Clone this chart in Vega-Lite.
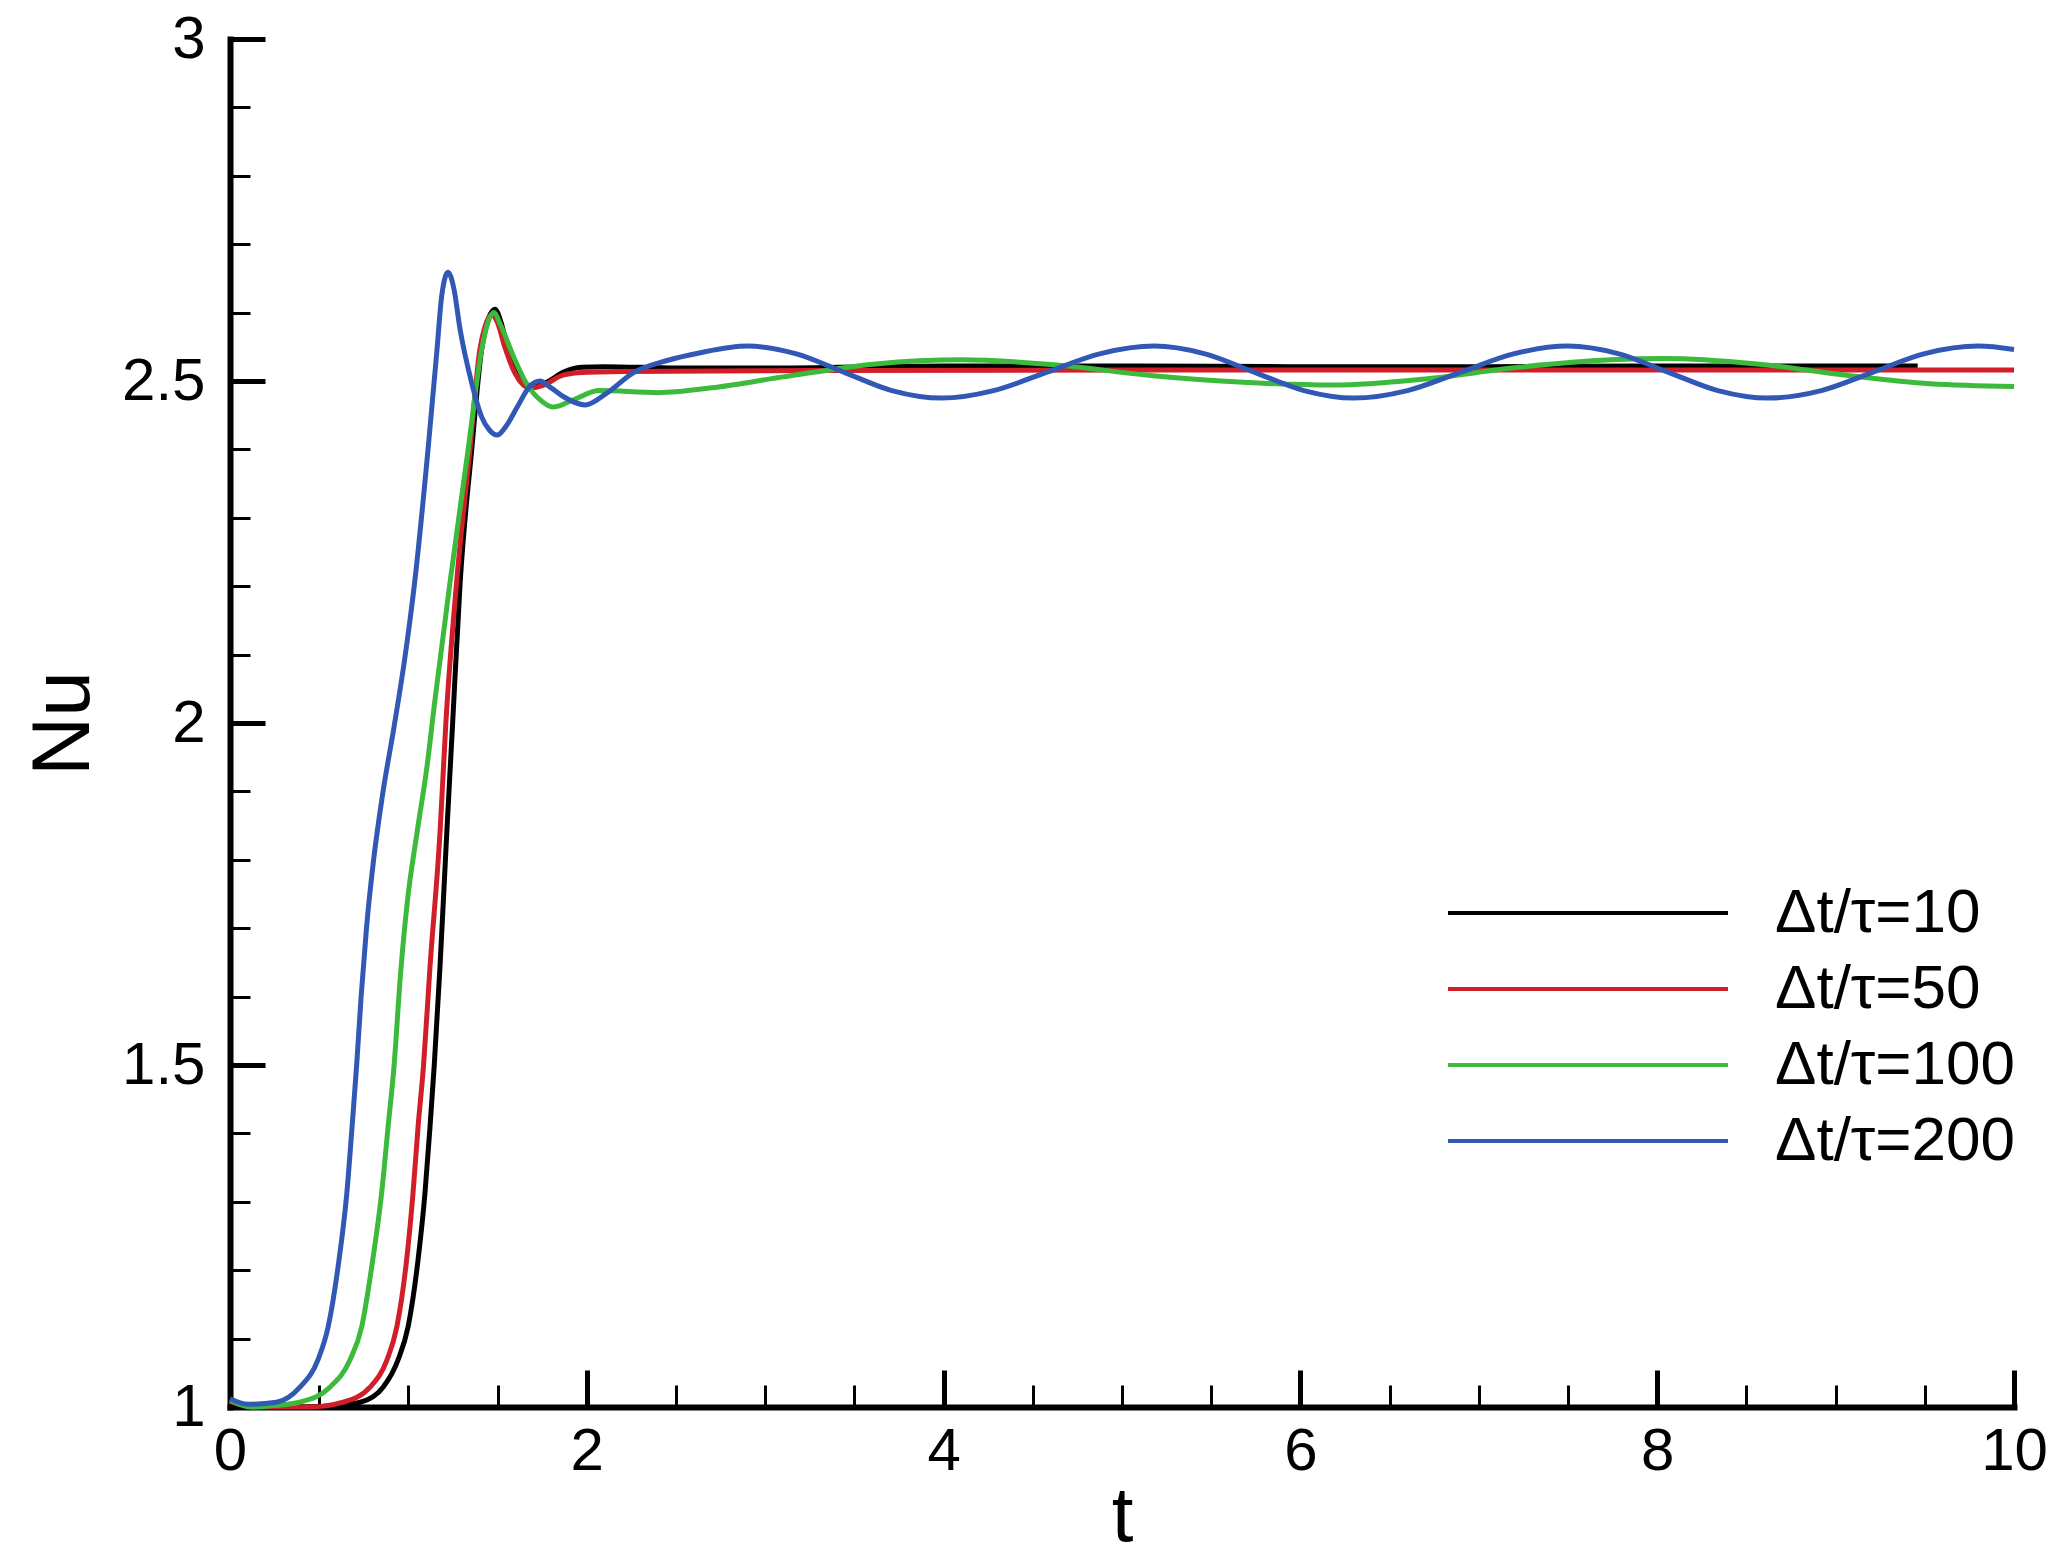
{
  "$schema": "https://vega.github.io/schema/vega-lite/v6.json",
  "width": 1784,
  "height": 1368,
  "autosize": {"type": "none"},
  "padding": {"left": 230, "top": 39, "right": 50, "bottom": 156},
  "background": "white",
  "config": {"view": {"stroke": null}, "font": "Liberation Sans"},
  "data": {
    "values": [
      {"series": "Δt/τ=10", "t": 0, "Nu": 1.006},
      {"series": "Δt/τ=10", "t": 0.15, "Nu": 1.0},
      {"series": "Δt/τ=10", "t": 0.4, "Nu": 1.0},
      {"series": "Δt/τ=10", "t": 0.58, "Nu": 1.002},
      {"series": "Δt/τ=10", "t": 0.73, "Nu": 1.007},
      {"series": "Δt/τ=10", "t": 0.858, "Nu": 1.029},
      {"series": "Δt/τ=10", "t": 0.942, "Nu": 1.069},
      {"series": "Δt/τ=10", "t": 0.998, "Nu": 1.117},
      {"series": "Δt/τ=10", "t": 1.054, "Nu": 1.215},
      {"series": "Δt/τ=10", "t": 1.093, "Nu": 1.313},
      {"series": "Δt/τ=10", "t": 1.121, "Nu": 1.409},
      {"series": "Δt/τ=10", "t": 1.145, "Nu": 1.5},
      {"series": "Δt/τ=10", "t": 1.177, "Nu": 1.643},
      {"series": "Δt/τ=10", "t": 1.215, "Nu": 1.839},
      {"series": "Δt/τ=10", "t": 1.25, "Nu": 2.01},
      {"series": "Δt/τ=10", "t": 1.29, "Nu": 2.205},
      {"series": "Δt/τ=10", "t": 1.355, "Nu": 2.4},
      {"series": "Δt/τ=10", "t": 1.41, "Nu": 2.545},
      {"series": "Δt/τ=10", "t": 1.45, "Nu": 2.592},
      {"series": "Δt/τ=10", "t": 1.485, "Nu": 2.605},
      {"series": "Δt/τ=10", "t": 1.52, "Nu": 2.585},
      {"series": "Δt/τ=10", "t": 1.55, "Nu": 2.555},
      {"series": "Δt/τ=10", "t": 1.61, "Nu": 2.512},
      {"series": "Δt/τ=10", "t": 1.66, "Nu": 2.494},
      {"series": "Δt/τ=10", "t": 1.72, "Nu": 2.493},
      {"series": "Δt/τ=10", "t": 1.78, "Nu": 2.499},
      {"series": "Δt/τ=10", "t": 1.87, "Nu": 2.513},
      {"series": "Δt/τ=10", "t": 1.97, "Nu": 2.52},
      {"series": "Δt/τ=10", "t": 2.1, "Nu": 2.521},
      {"series": "Δt/τ=10", "t": 2.5, "Nu": 2.519},
      {"series": "Δt/τ=10", "t": 3, "Nu": 2.519},
      {"series": "Δt/τ=10", "t": 4, "Nu": 2.522},
      {"series": "Δt/τ=10", "t": 5, "Nu": 2.522},
      {"series": "Δt/τ=10", "t": 6, "Nu": 2.521},
      {"series": "Δt/τ=10", "t": 7, "Nu": 2.521},
      {"series": "Δt/τ=10", "t": 8, "Nu": 2.522},
      {"series": "Δt/τ=10", "t": 9, "Nu": 2.522},
      {"series": "Δt/τ=10", "t": 9.46, "Nu": 2.522},

      {"series": "Δt/τ=50", "t": 0, "Nu": 1.008},
      {"series": "Δt/τ=50", "t": 0.15, "Nu": 1.0},
      {"series": "Δt/τ=50", "t": 0.45, "Nu": 1.0},
      {"series": "Δt/τ=50", "t": 0.634, "Nu": 1.007},
      {"series": "Δt/τ=50", "t": 0.785, "Nu": 1.029},
      {"series": "Δt/τ=50", "t": 0.88, "Nu": 1.069},
      {"series": "Δt/τ=50", "t": 0.935, "Nu": 1.117},
      {"series": "Δt/τ=50", "t": 0.99, "Nu": 1.215},
      {"series": "Δt/τ=50", "t": 1.026, "Nu": 1.313},
      {"series": "Δt/τ=50", "t": 1.054, "Nu": 1.409},
      {"series": "Δt/τ=50", "t": 1.085, "Nu": 1.5},
      {"series": "Δt/τ=50", "t": 1.121, "Nu": 1.643},
      {"series": "Δt/τ=50", "t": 1.177, "Nu": 1.839},
      {"series": "Δt/τ=50", "t": 1.21, "Nu": 2.0},
      {"series": "Δt/τ=50", "t": 1.27, "Nu": 2.205},
      {"series": "Δt/τ=50", "t": 1.345, "Nu": 2.4},
      {"series": "Δt/τ=50", "t": 1.4, "Nu": 2.545},
      {"series": "Δt/τ=50", "t": 1.43, "Nu": 2.58},
      {"series": "Δt/τ=50", "t": 1.467, "Nu": 2.597},
      {"series": "Δt/τ=50", "t": 1.5, "Nu": 2.585},
      {"series": "Δt/τ=50", "t": 1.54, "Nu": 2.55},
      {"series": "Δt/τ=50", "t": 1.6, "Nu": 2.51},
      {"series": "Δt/τ=50", "t": 1.68, "Nu": 2.49},
      {"series": "Δt/τ=50", "t": 1.76, "Nu": 2.494},
      {"series": "Δt/τ=50", "t": 1.85, "Nu": 2.507},
      {"series": "Δt/τ=50", "t": 1.95, "Nu": 2.512},
      {"series": "Δt/τ=50", "t": 2.2, "Nu": 2.514},
      {"series": "Δt/τ=50", "t": 3, "Nu": 2.515},
      {"series": "Δt/τ=50", "t": 5, "Nu": 2.516},
      {"series": "Δt/τ=50", "t": 7, "Nu": 2.516},
      {"series": "Δt/τ=50", "t": 10, "Nu": 2.516},

      {"series": "Δt/τ=100", "t": 0, "Nu": 1.01},
      {"series": "Δt/τ=100", "t": 0.12, "Nu": 1.0},
      {"series": "Δt/τ=100", "t": 0.25, "Nu": 1.002},
      {"series": "Δt/τ=100", "t": 0.39, "Nu": 1.007},
      {"series": "Δt/τ=100", "t": 0.56, "Nu": 1.029},
      {"series": "Δt/τ=100", "t": 0.673, "Nu": 1.069},
      {"series": "Δt/τ=100", "t": 0.738, "Nu": 1.117},
      {"series": "Δt/τ=100", "t": 0.8, "Nu": 1.215},
      {"series": "Δt/τ=100", "t": 0.85, "Nu": 1.313},
      {"series": "Δt/τ=100", "t": 0.886, "Nu": 1.409},
      {"series": "Δt/τ=100", "t": 0.92, "Nu": 1.5},
      {"series": "Δt/τ=100", "t": 0.955, "Nu": 1.63},
      {"series": "Δt/τ=100", "t": 0.995, "Nu": 1.741},
      {"series": "Δt/τ=100", "t": 1.048, "Nu": 1.839},
      {"series": "Δt/τ=100", "t": 1.104, "Nu": 1.936},
      {"series": "Δt/τ=100", "t": 1.149, "Nu": 2.034},
      {"series": "Δt/τ=100", "t": 1.233, "Nu": 2.205},
      {"series": "Δt/τ=100", "t": 1.335, "Nu": 2.4},
      {"series": "Δt/τ=100", "t": 1.41, "Nu": 2.545},
      {"series": "Δt/τ=100", "t": 1.445, "Nu": 2.585},
      {"series": "Δt/τ=100", "t": 1.478, "Nu": 2.6},
      {"series": "Δt/τ=100", "t": 1.52, "Nu": 2.58},
      {"series": "Δt/τ=100", "t": 1.59, "Nu": 2.535},
      {"series": "Δt/τ=100", "t": 1.66, "Nu": 2.497},
      {"series": "Δt/τ=100", "t": 1.74, "Nu": 2.472},
      {"series": "Δt/τ=100", "t": 1.81, "Nu": 2.462},
      {"series": "Δt/τ=100", "t": 1.92, "Nu": 2.472},
      {"series": "Δt/τ=100", "t": 2.07, "Nu": 2.486},
      {"series": "Δt/τ=100", "t": 2.4, "Nu": 2.483},
      {"series": "Δt/τ=100", "t": 2.7, "Nu": 2.49},
      {"series": "Δt/τ=100", "t": 3.1, "Nu": 2.506},
      {"series": "Δt/τ=100", "t": 3.62, "Nu": 2.525},
      {"series": "Δt/τ=100", "t": 4.1, "Nu": 2.531},
      {"series": "Δt/τ=100", "t": 4.65, "Nu": 2.523},
      {"series": "Δt/τ=100", "t": 5.16, "Nu": 2.508},
      {"series": "Δt/τ=100", "t": 5.68, "Nu": 2.498},
      {"series": "Δt/τ=100", "t": 6.19, "Nu": 2.494},
      {"series": "Δt/τ=100", "t": 6.7, "Nu": 2.503},
      {"series": "Δt/τ=100", "t": 7.22, "Nu": 2.52},
      {"series": "Δt/τ=100", "t": 7.74, "Nu": 2.531},
      {"series": "Δt/τ=100", "t": 8.04, "Nu": 2.533},
      {"series": "Δt/τ=100", "t": 8.56, "Nu": 2.525},
      {"series": "Δt/τ=100", "t": 9.07, "Nu": 2.508},
      {"series": "Δt/τ=100", "t": 9.53, "Nu": 2.496},
      {"series": "Δt/τ=100", "t": 10, "Nu": 2.492},

      {"series": "Δt/τ=200", "t": 0, "Nu": 1.012},
      {"series": "Δt/τ=200", "t": 0.1, "Nu": 1.004},
      {"series": "Δt/τ=200", "t": 0.26, "Nu": 1.007},
      {"series": "Δt/τ=200", "t": 0.392, "Nu": 1.029},
      {"series": "Δt/τ=200", "t": 0.493, "Nu": 1.069},
      {"series": "Δt/τ=200", "t": 0.55, "Nu": 1.117},
      {"series": "Δt/τ=200", "t": 0.611, "Nu": 1.215},
      {"series": "Δt/τ=200", "t": 0.655, "Nu": 1.313},
      {"series": "Δt/τ=200", "t": 0.684, "Nu": 1.409},
      {"series": "Δt/τ=200", "t": 0.71, "Nu": 1.5},
      {"series": "Δt/τ=200", "t": 0.735, "Nu": 1.6},
      {"series": "Δt/τ=200", "t": 0.765, "Nu": 1.7},
      {"series": "Δt/τ=200", "t": 0.805, "Nu": 1.8},
      {"series": "Δt/τ=200", "t": 0.855, "Nu": 1.895},
      {"series": "Δt/τ=200", "t": 0.92, "Nu": 1.995},
      {"series": "Δt/τ=200", "t": 0.98, "Nu": 2.095},
      {"series": "Δt/τ=200", "t": 1.037, "Nu": 2.21},
      {"series": "Δt/τ=200", "t": 1.11, "Nu": 2.4},
      {"series": "Δt/τ=200", "t": 1.16, "Nu": 2.545},
      {"series": "Δt/τ=200", "t": 1.187, "Nu": 2.625},
      {"series": "Δt/τ=200", "t": 1.222, "Nu": 2.659},
      {"series": "Δt/τ=200", "t": 1.255, "Nu": 2.635},
      {"series": "Δt/τ=200", "t": 1.29, "Nu": 2.575},
      {"series": "Δt/τ=200", "t": 1.355, "Nu": 2.497},
      {"series": "Δt/τ=200", "t": 1.41, "Nu": 2.448},
      {"series": "Δt/τ=200", "t": 1.455, "Nu": 2.428},
      {"series": "Δt/τ=200", "t": 1.497, "Nu": 2.421},
      {"series": "Δt/τ=200", "t": 1.55, "Nu": 2.435},
      {"series": "Δt/τ=200", "t": 1.61, "Nu": 2.462},
      {"series": "Δt/τ=200", "t": 1.68, "Nu": 2.492},
      {"series": "Δt/τ=200", "t": 1.738, "Nu": 2.5},
      {"series": "Δt/τ=200", "t": 1.8, "Nu": 2.49},
      {"series": "Δt/τ=200", "t": 1.87, "Nu": 2.477},
      {"series": "Δt/τ=200", "t": 1.99, "Nu": 2.465},
      {"series": "Δt/τ=200", "t": 2.11, "Nu": 2.482},
      {"series": "Δt/τ=200", "t": 2.26, "Nu": 2.512},
      {"series": "Δt/τ=200", "t": 2.45, "Nu": 2.53},
      {"series": "Δt/τ=200", "t": 2.63, "Nu": 2.541},
      {"series": "Δt/τ=200", "t": 2.9, "Nu": 2.551},
      {"series": "Δt/τ=200", "t": 3.17, "Nu": 2.54},
      {"series": "Δt/τ=200", "t": 3.44, "Nu": 2.513},
      {"series": "Δt/τ=200", "t": 3.71, "Nu": 2.486},
      {"series": "Δt/τ=200", "t": 3.99, "Nu": 2.475},
      {"series": "Δt/τ=200", "t": 4.28, "Nu": 2.486},
      {"series": "Δt/τ=200", "t": 4.58, "Nu": 2.513},
      {"series": "Δt/τ=200", "t": 4.88, "Nu": 2.54},
      {"series": "Δt/τ=200", "t": 5.18, "Nu": 2.551},
      {"series": "Δt/τ=200", "t": 5.46, "Nu": 2.54},
      {"series": "Δt/τ=200", "t": 5.74, "Nu": 2.513},
      {"series": "Δt/τ=200", "t": 6.02, "Nu": 2.486},
      {"series": "Δt/τ=200", "t": 6.3, "Nu": 2.475},
      {"series": "Δt/τ=200", "t": 6.6, "Nu": 2.486},
      {"series": "Δt/τ=200", "t": 6.9, "Nu": 2.513},
      {"series": "Δt/τ=200", "t": 7.2, "Nu": 2.54},
      {"series": "Δt/τ=200", "t": 7.5, "Nu": 2.551},
      {"series": "Δt/τ=200", "t": 7.78, "Nu": 2.54},
      {"series": "Δt/τ=200", "t": 8.06, "Nu": 2.513},
      {"series": "Δt/τ=200", "t": 8.34, "Nu": 2.486},
      {"series": "Δt/τ=200", "t": 8.62, "Nu": 2.475},
      {"series": "Δt/τ=200", "t": 8.92, "Nu": 2.486},
      {"series": "Δt/τ=200", "t": 9.21, "Nu": 2.513},
      {"series": "Δt/τ=200", "t": 9.5, "Nu": 2.54},
      {"series": "Δt/τ=200", "t": 9.8, "Nu": 2.551},
      {"series": "Δt/τ=200", "t": 10, "Nu": 2.546}
    ]
  },
  "mark": {"type": "line", "strokeWidth": 5, "interpolate": "monotone"},
  "encoding": {
    "x": {
      "field": "t",
      "type": "quantitative",
      "scale": {"domain": [0, 10], "nice": false, "zero": false},
      "axis": {
        "title": "t",
        "values": [0, 0.5, 1, 1.5, 2, 2.5, 3, 3.5, 4, 4.5, 5, 5.5, 6, 6.5, 7, 7.5, 8, 8.5, 9, 9.5, 10],
        "grid": false,
        "domainColor": "black",
        "domainWidth": 6,
        "domainCap": "square",
        "tickColor": "black",
        "tickSize": {"condition": {"test": "abs(datum.value/2 - round(datum.value/2)) < 0.001", "value": -37}, "value": -22},
        "tickWidth": {"condition": {"test": "abs(datum.value/2 - round(datum.value/2)) < 0.001", "value": 5}, "value": 3},
        "labelExpr": "abs(datum.value/2 - round(datum.value/2)) < 0.001 ? format(datum.value, '~g') : ''",
        "labelFontSize": 60,
        "labelColor": "black",
        "labelPadding": 52,
        "labelFlush": false,
        "labelOverlap": false,
        "titleFontSize": 78,
        "titleFontWeight": "normal",
        "titleColor": "black",
        "titleBaseline": "alphabetic",
        "titleAlign": "center",
        "titleX": 892,
        "titleY": 133
      }
    },
    "y": {
      "field": "Nu",
      "type": "quantitative",
      "scale": {"domain": [1, 3], "nice": false, "zero": false},
      "axis": {
        "title": "Nu",
        "values": [1, 1.1, 1.2, 1.3, 1.4, 1.5, 1.6, 1.7, 1.8, 1.9, 2, 2.1, 2.2, 2.3, 2.4, 2.5, 2.6, 2.7, 2.8, 2.9, 3],
        "grid": false,
        "domainColor": "black",
        "domainWidth": 6,
        "domainCap": "square",
        "tickColor": "black",
        "tickSize": {"condition": {"test": "abs(datum.value*2 - round(datum.value*2)) < 0.001", "value": -35}, "value": -20},
        "tickWidth": {"condition": {"test": "abs(datum.value*2 - round(datum.value*2)) < 0.001", "value": 5}, "value": 3},
        "labelExpr": "abs(datum.value*2 - round(datum.value*2)) < 0.001 ? format(datum.value, '~g') : ''",
        "labelFontSize": 60,
        "labelColor": "black",
        "labelPadding": 60,
        "labelFlush": false,
        "labelOverlap": false,
        "titleFontSize": 82,
        "titleFontWeight": "normal",
        "titleColor": "black",
        "titleAngle": -90,
        "titleBaseline": "alphabetic",
        "titleAlign": "center",
        "titleX": -142,
        "titleY": 684
      }
    },
    "color": {
      "field": "series",
      "type": "nominal",
      "scale": {
        "domain": ["Δt/τ=10", "Δt/τ=50", "Δt/τ=100", "Δt/τ=200"],
        "range": ["#000000", "#d21e28", "#3cba3c", "#3158b5"]
      },
      "legend": {
        "orient": "none",
        "legendX": 1321,
        "legendY": 837,
        "title": null,
        "padding": 0,
        "symbolType": "M-4,0H4",
        "symbolSize": 4900,
        "symbolStrokeWidth": 4,
        "labelFontSize": 62,
        "labelColor": "black",
        "labelOffset": 150,
        "labelLimit": 500,
        "rowPadding": 8
      }
    }
  }
}
